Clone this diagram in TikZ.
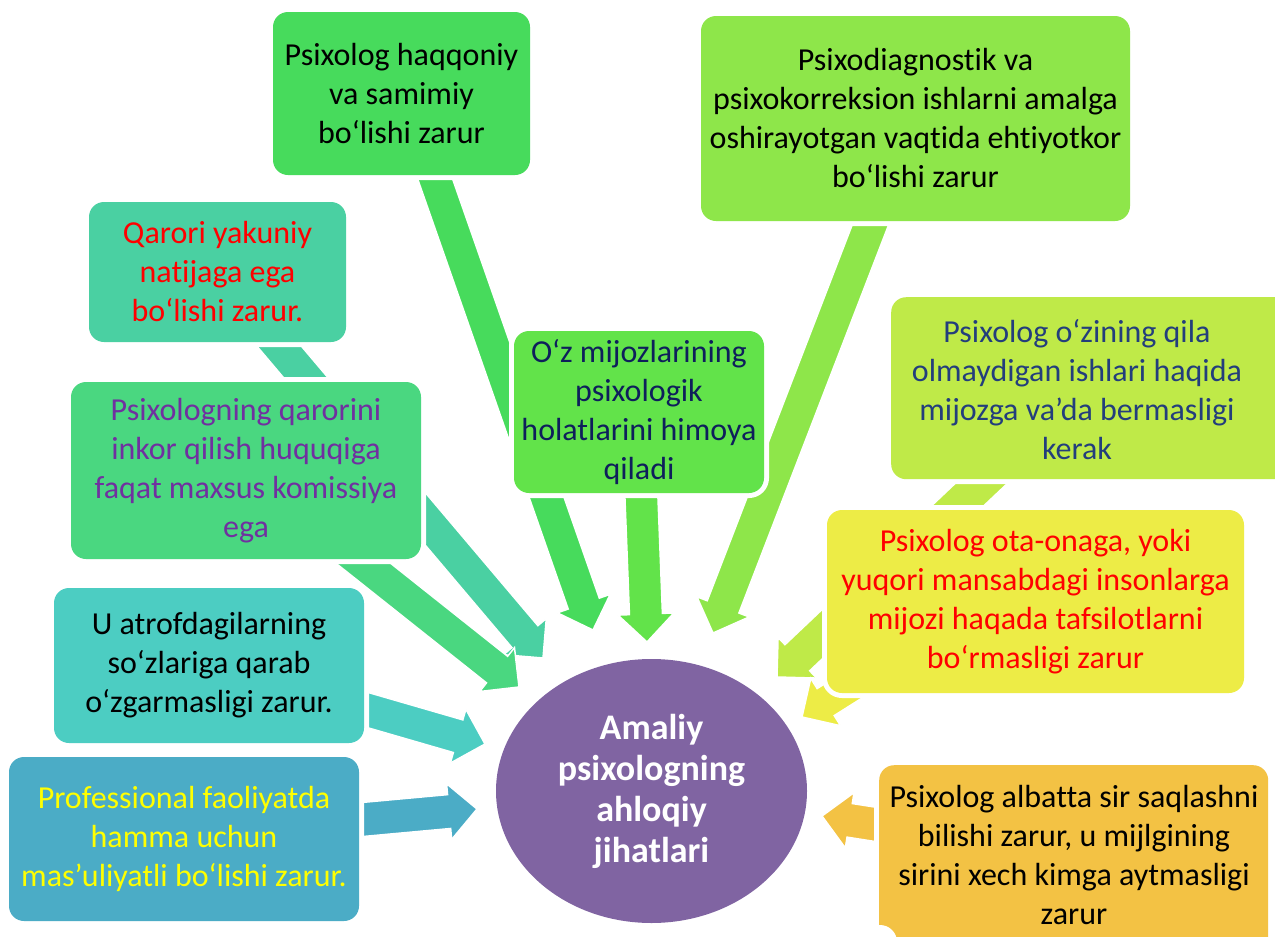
\documentclass[tikz,border=0pt]{standalone}
\usepackage{fontspec}
\setmainfont{Carlito}[Ligatures={NoCommon,NoRare,NoContextual},RawFeature={-calt}]
\usetikzlibrary{calc,shapes.geometric}
\definecolor{c1}{HTML}{47DB5C}
\definecolor{c2}{HTML}{8EE64A}
\definecolor{c3}{HTML}{4AD0A2}
\definecolor{c4}{HTML}{4AD780}
\definecolor{c5}{HTML}{62E34A}
\definecolor{c6}{HTML}{BFEA48}
\definecolor{c7}{HTML}{EDEC46}
\definecolor{c8}{HTML}{4CCDC2}
\definecolor{c9}{HTML}{4BACC6}
\definecolor{c10}{HTML}{F3C244}
\definecolor{ell}{HTML}{8064A2}
\definecolor{tred}{HTML}{FF0000}
\definecolor{tpurple}{HTML}{7030A0}
\definecolor{tnavy}{HTML}{0E1F5B}
\definecolor{tblue}{HTML}{233E7C}
\definecolor{tyellow}{HTML}{FFFF00}
\newcommand\blockarrow[5]{%
  \path ($(#3)!#5!(#2)$) coordinate (tmpC);
  \filldraw[fill=#1, draw=white, line width=1.5pt, line join=miter]
    ($(#2)!#4!90:(#3)$) -- ($(tmpC)!#4!90:(#3)$) -- ($(tmpC)!#5!90:(#3)$) -- (#3)
    -- ($(tmpC)!#5!-90:(#3)$) -- ($(tmpC)!#4!-90:(#3)$) -- ($(#2)!#4!-90:(#3)$) -- cycle;
}
\begin{document}
\begin{tikzpicture}[x=1pt,y=-1pt,
  box/.style={rounded corners=15pt, inner sep=0pt, align=center,
    preaction={draw=white, line width=10pt},
    font=\fontsize{32}{39}\selectfont},
  txt/.style={inner sep=0pt, align=center, font=\fontsize{32}{39}\selectfont}]
\useasboundingbox (0,0) rectangle (1275,937);
% arrow end points
\coordinate (s1) at (425,150);  \coordinate (t1) at (593,630);
\coordinate (s2) at (640,460);  \coordinate (t2) at (647,642);
\coordinate (s3) at (880,200);  \coordinate (t3) at (713,633);
\coordinate (s4) at (257,320);  \coordinate (t4) at (543,658);
\coordinate (s5) at (334,540);  \coordinate (t5) at (519,687);
\coordinate (s6) at (340,702);  \coordinate (t6) at (485,744);
\coordinate (s7) at (335,822);  \coordinate (t7) at (477,809);
\coordinate (s8) at (1006,460); \coordinate (t8) at (777,677);
\coordinate (s9) at (905,652);  \coordinate (t9) at (802,717);
\coordinate (s10) at (905,829); \coordinate (t10) at (822,816);
% arrows
\blockarrow{c1}{s1}{t1}{16.5pt}{28pt}
\blockarrow{c5}{s2}{t2}{16.5pt}{28pt}
\blockarrow{c2}{s3}{t3}{17pt}{28pt}
\blockarrow{c3}{s4}{t4}{17pt}{28pt}
\blockarrow{c4}{s5}{t5}{17pt}{28pt}
\blockarrow{c8}{s6}{t6}{17pt}{28pt}
\blockarrow{c9}{s7}{t7}{17pt}{28pt}
\blockarrow{c6}{s8}{t8}{18pt}{28pt}
\blockarrow{c7}{s9}{t9}{16pt}{28pt}
\blockarrow{c10}{s10}{t10}{17pt}{28pt}
% boxes
\node[box, fill=c1, minimum width=257pt, minimum height=163pt] (b1) at (401.5,93.5)
  {Psixolog haqqoniy\\va samimiy\\bo‘lishi zarur};
\node[box, fill=c2, minimum width=429pt, minimum height=205pt] (b2) at (915.5,118.5)
  {Psixodiagnostik va\\psixokorreksion ishlarni amalga\\oshirayotgan vaqtida ehtiyotkor\\bo‘lishi zarur};
\node[box, fill=c3, minimum width=257pt, minimum height=140pt, text=tred] (b3) at (217.5,272)
  {Qarori yakuniy\\natijaga ega\\bo‘lishi zarur.};
\node[box, fill=c4, minimum width=350pt, minimum height=177pt, text=tpurple] (b4) at (246,470.5)
  {Psixologning qarorini\\inkor qilish huquqiga\\faqat maxsus komissiya\\ega};
\node[box, fill=c5, minimum width=250pt, minimum height=162pt, text=tnavy] (b5) at (639,412)
  {O‘z mijozlarining\\psixologik\\holatlarini himoya\\qiladi};
\node[box, fill=c6, minimum width=400pt, minimum height=182pt, anchor=north west] (b6) at (891,297) {};
\node[txt, text=tblue] (x6) at (1077,390)
  {Psixolog o‘zining qila\\olmaydigan ishlari haqida\\mijozga va’da bermasligi\\kerak};
\node[box, fill=c7, minimum width=417pt, minimum height=183pt, text=tred] (b7) at (1035.5,601.5)
  {Psixolog ota-onaga, yoki\\yuqori mansabdagi insonlarga\\mijozi haqada tafsilotlarni\\bo‘rmasligi zarur};
\node[box, fill=c8, minimum width=310pt, minimum height=155pt] (b8) at (209,665.5)
  {U atrofdagilarning\\so‘zlariga qarab\\o‘zgarmasligi zarur.};
\node[box, fill=c9, minimum width=350pt, minimum height=164pt, text=tyellow] (b9) at (184,839)
  {Professional faoliyatda\\hamma uchun\\mas’uliyatli bo‘lishi zarur.};
\node[box, fill=c10, minimum width=389pt, minimum height=200pt, anchor=north west] (b10) at (879,765) {};
\node[txt] (x10) at (1074,855)
  {Psixolog albatta sir saqlashni\\bilishi zarur, u mijlgining\\sirini xech kimga aytmasligi\\zarur};
\fill[white] (880,942) circle (17);
% centre
\node[ellipse, fill=ell, minimum width=311pt, minimum height=264pt, inner sep=0pt,
  text=white, align=center, font=\bfseries\fontsize{36}{41}\selectfont] (e) at (651.5,791)
  {Amaliy\\psixologning\\ahloqiy\\jihatlari};
\end{tikzpicture}
\end{document}
